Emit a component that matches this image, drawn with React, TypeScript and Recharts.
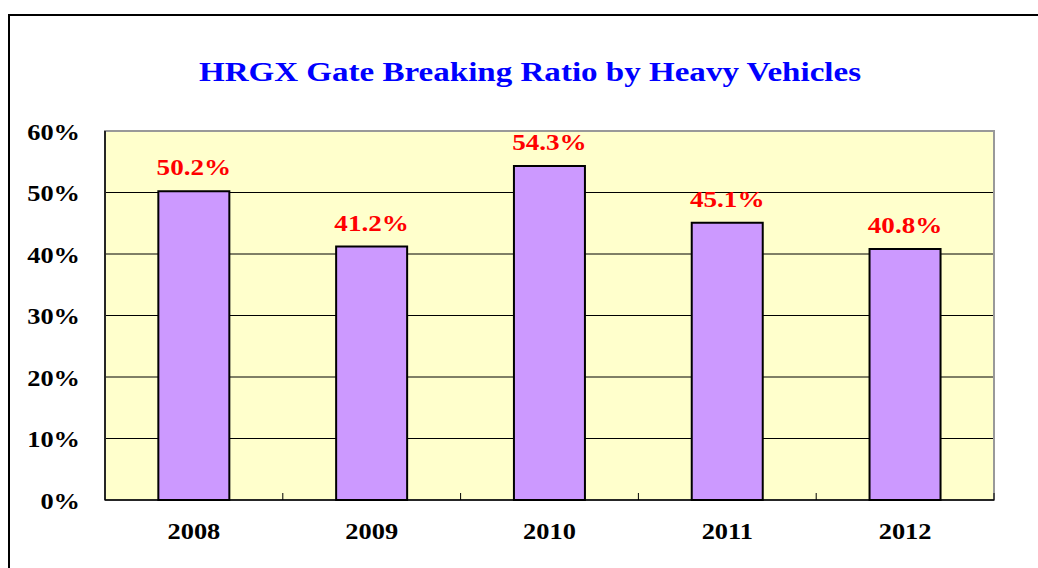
import React from "react";
import { BarChart, Bar, XAxis, YAxis, CartesianGrid, LabelList, ReferenceArea } from "recharts";

const years = ["2008", "2009", "2010", "2011", "2012"];
const ratios = [50.2, 41.2, 54.3, 45.1, 40.8];
const yTicks = [0, 10, 20, 30, 40, 50, 60];
const gridValues = [10, 20, 30, 40, 50];
const yMax = 60;
const title = "HRGX Gate Breaking Ratio by Heavy Vehicles";

const data = years.map((y, i) => ({ year: y, ratio: ratios[i] }));

const FONT = "'Liberation Serif', 'Times New Roman', serif";
const W = 1038;
const H = 568;
const M = { top: 131, right: 44, bottom: 28, left: 10 };
const Y_W = 95;
const X_H = 40;
const plotW = W - M.left - M.right - Y_W;
const band = plotW / years.length;
const axisY = H - M.bottom - X_H;

const STxt = ({ x, y, anchor, size, fill, sx, dy, children }: any) => (
  <text
    transform={`translate(${x},${y}) scale(${sx},1)`}
    x={0}
    y={0}
    dy={dy || 0}
    textAnchor={anchor}
    fontFamily={FONT}
    fontWeight="bold"
    fontSize={size}
    fill={fill}
  >
    {children}
  </text>
);

const XTick = (props: any) => {
  const { x, y, payload } = props;
  const bx = x + band / 2;
  return (
    <g>
      <line x1={bx} x2={bx} y1={axisY - 7} y2={axisY} stroke="#000" strokeWidth={1} />
      <STxt x={x} y={y + 31} anchor="middle" size={24} fill="#000" sx={1.1}>
        {payload.value}
      </STxt>
    </g>
  );
};

const YTick = (props: any) => {
  const { x, y, payload } = props;
  return (
    <STxt x={x} y={y} dy="0.355em" anchor="end" size={24} fill="#000" sx={1.1}>
      {`${payload.value}%`}
    </STxt>
  );
};

const BarLabel = (props: any) => {
  const { x, y, width, value } = props;
  return (
    <STxt x={x + width / 2} y={y - 16} anchor="middle" size={24} fill="#FF0000" sx={1.13}>
      {`${Number(value).toFixed(1)}%`}
    </STxt>
  );
};

export default function App() {
  return (
    <div style={{ position: "absolute", left: 0, top: 0, width: W, height: H, overflow: "hidden", background: "#fff" }}>
      <div style={{ position: "absolute", left: 8, top: 14, width: 1100, height: 600, borderTop: "2px solid #000", borderLeft: "2px solid #000" }} />
      <div style={{ position: "absolute", left: 0, top: 0 }}>
        <BarChart width={W} height={H} data={data} margin={M} barCategoryGap="30%">
          <CartesianGrid
            vertical={false}
            xAxisId="bottom"
            yAxisId="left"
            horizontalValues={gridValues}
            stroke="#000"
            strokeOpacity={1}
            fill="#FFFFCC"
            fillOpacity={1}
          />
          <ReferenceArea xAxisId="bottom" yAxisId="left" y1={0} y2={yMax} fill="none" fillOpacity={0} stroke="#999" strokeWidth={2} />
          <XAxis
            dataKey="year"
            xAxisId="bottom"
            height={X_H}
            axisLine={{ stroke: "#000", strokeWidth: 1.5 }}
            tickLine={false}
            tick={<XTick />}
            interval={0}
          />
          <YAxis
            yAxisId="left"
            domain={[0, yMax]}
            ticks={yTicks}
            width={Y_W}
            axisLine={{ stroke: "#000", strokeWidth: 1.5 }}
            tickLine={false}
            tickMargin={19}
            tick={<YTick />}
            interval={0}
          />
          <Bar dataKey="ratio" xAxisId="bottom" yAxisId="left" fill="#CC99FF" stroke="#000" strokeWidth={2} isAnimationActive={false}>
            <LabelList dataKey="ratio" content={<BarLabel />} />
          </Bar>
        </BarChart>
      </div>
      <div style={{ position: "absolute", left: 0, width: 1060, top: 52, textAlign: "center", fontFamily: FONT, fontWeight: "bold", fontSize: 28, color: "#0000FF", whiteSpace: "nowrap", lineHeight: "40px", transform: "scaleX(1.18)", transformOrigin: "530px 50%" }}>
        {title}
      </div>
    </div>
  );
}
